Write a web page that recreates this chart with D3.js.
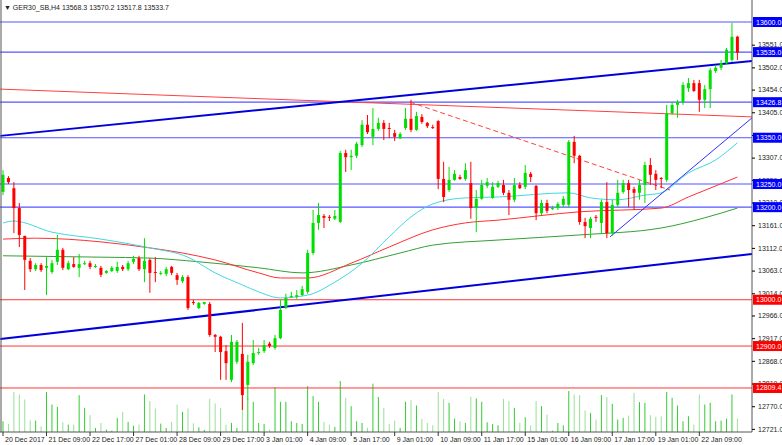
<!DOCTYPE html>
<html>
<head>
  <title>GER30 H4</title>
  <script src="https://d3js.org/d3.v7.min.js"></script>
  <style>
    body { margin: 0; background: #fff; }
    text { font-family: "Liberation Sans", Arial, sans-serif; }
  </style>
</head>
<body>
<script type="text/javascript">

// ****** DATA ******

  var opens = [13233,13263,13241,13198,13138,13084,13066,13075,13069,13060,
    13082,13108,13066,13077,13069,13077,13079,13071,13069,13058,
    13062,13062,13071,13066,13082,13090,13066,13086,13060,13056,
    13056,13071,13053,13040,13049,12995,12982,12991,12991,12924,
    12920,12889,12827,12866,12883,12816,12863,12885,12889,12905,
    12896,12917,12984,13006,13006,13010,13017,13101,13166,13181,
    13179,13175,13168,13317,13308,13311,13334,13378,13352,13369,
    13382,13371,13360,13349,13371,13391,13367,13395,13382,13373,
    13386,13261,13237,13259,13265,13261,13252,13198,13218,13246,
    13220,13244,13248,13231,13216,13248,13244,13272,13246,13187,
    13209,13196,13198,13205,13205,13341,13311,13168,13155,13179,
    13166,13211,13144,13205,13233,13252,13239,13231,13248,13291,
    13272,13263,13259,13403,13421,13427,13457,13468,13468,13432,
    13455,13494,13501,13511,13518,13568.3];
  var highs = [13280,13267,13254,13209,13138,13090,13079,13079,13092,13086,
    13140,13112,13084,13092,13099,13084,13084,13077,13073,13064,
    13073,13082,13075,13084,13095,13095,13133,13090,13092,13062,
    13071,13073,13058,13053,13053,13000,12995,12995,12995,12926,
    12922,12902,12924,12913,12950,12881,12913,12896,12913,12909,
    12924,13000,13013,13017,13021,13030,13108,13194,13209,13185,
    13183,13194,13321,13324,13324,13341,13388,13399,13414,13393,
    13388,13382,13367,13362,13414,13432,13406,13401,13384,13378,
    13388,13298,13287,13280,13270,13295,13298,13237,13259,13263,
    13254,13257,13259,13237,13263,13254,13291,13276,13248,13216,
    13216,13203,13211,13224,13345,13354,13313,13177,13179,13183,
    13216,13254,13216,13259,13259,13259,13244,13259,13298,13306,
    13280,13265,13421,13427,13432,13470,13479,13475,13475,13464,
    13501,13507,13518,13544,13598,13570.2];
  var lows = [13226,13250,13144,13114,13021,13060,13062,13060,13010,13056,
    13075,13064,13064,13069,13049,13075,13066,13069,13049,13056,
    13060,13058,13062,13062,13077,13062,13038,13015,13038,13053,
    13051,13053,13032,13036,12978,12989,12980,12989,12920,12887,
    12827,12827,12822,12861,12762,12784,12859,12881,12885,12896,
    12892,12915,12980,13004,13002,13008,13013,13097,13151,13155,
    13170,13172,13166,13276,13280,13306,13330,13358,13334,13365,
    13345,13349,13343,13347,13367,13362,13365,13380,13371,13369,
    13239,13211,13233,13257,13259,13257,13175,13146,13216,13241,
    13218,13241,13226,13183,13211,13239,13239,13254,13172,13183,
    13187,13194,13194,13200,13200,13295,13162,13133,13133,13168,
    13142,13133,13138,13200,13229,13200,13194,13216,13209,13248,
    13237,13241,13254,13399,13393,13421,13449,13449,13406,13414,
    13414,13490,13496,13509,13514,13517.8];
  var closes = [13270,13254,13198,13140,13086,13066,13075,13064,13073,13079,
    13108,13069,13079,13071,13077,13079,13071,13073,13054,13062,
    13069,13071,13066,13079,13088,13066,13084,13058,13058,13058,
    13066,13058,13043,13049,12982,12993,12993,12995,12924,12920,
    12887,12863,12909,12909,12794,12866,12885,12887,12902,12900,
    12917,12978,13004,13008,13010,13023,13101,13166,13183,13177,
    13177,13181,13317,13308,13311,13337,13378,13362,13369,13382,
    13369,13369,13352,13358,13391,13367,13397,13384,13375,13372,
    13261,13222,13259,13272,13261,13280,13198,13218,13248,13254,
    13244,13252,13231,13216,13248,13241,13274,13265,13187,13209,
    13192,13198,13207,13218,13341,13311,13168,13159,13175,13177,
    13211,13144,13205,13231,13252,13237,13231,13248,13291,13270,
    13259,13261,13403,13421,13427,13464,13468,13451,13432,13455,
    13496,13501,13511,13540,13568,13533.7];
  var volumes = [32,24,119,112,97,35,34,17,119,82,
    75,29,22,22,110,72,50,12,27,7,
    4,42,60,30,19,22,112,92,70,25,
    12,30,82,60,70,26,14,6,99,85,
    72,22,27,12,137,99,90,27,24,7,
    134,90,90,32,27,24,137,107,90,30,
    22,15,152,102,77,32,27,12,144,104,
    72,24,34,12,90,95,79,39,27,20,
    119,99,87,40,32,27,105,100,90,29,
    24,20,99,92,72,27,44,20,92,77,
    52,4,27,20,122,112,110,64,57,37,
    110,104,84,37,42,49,117,89,87,50,
    45,47,119,102,79,32,47,22,112,82,
    87,32,34,40,112,40];

  // moving averages as [bar, price]
  var maFast = [[0,13166],[2,13170],[9,13146],[18,13131],[27,13112],[34,13092],[39,13058],[44,13032],
    [47,13017],[51,13004],[56,13010],[61,13038],[66,13079],[71,13136],[75,13179],[79,13207],[85,13220],
    [91,13222],[104,13231],[108,13220],[113,13216],[118,13226],[121,13231],[126,13274],[131,13302],[135,13339]];
  var maMid = [[0,13131],[6,13133],[18,13125],[27,13112],[33,13101],[39,13086],[47,13058],[51,13047],
    [56,13047],[64,13079],[71,13114],[79,13151],[85,13166],[91,13172],[106,13190],[121,13198],[126,13222],[135,13265]];
  var maSlow = [[0,13095],[18,13092],[27,13090],[36,13082],[47,13069],[55,13058],[64,13075],[73,13101],
    [79,13118],[91,13129],[106,13140],[121,13155],[129,13177],[135,13198]];

  var blueLevels = [13600, 13535, 13426.8, 13350, 13250, 13200];
  var redLevels = [13000, 12900, 12809.4];
  var trendUpper = [[-0.5,13354],[137.7,13516]];
  var trendLower = [[-0.5,12915],[137.7,13099]];
  var redLine = [[-0.5,13455],[137.7,13395]];
  var redDashed = [[74.8,13427],[122.6,13237]];
  var blueThin = [[111.6,13136],[137.7,13393]];

  var priceTicks = [13551,13502,13454,13405,13356,13307,13259,13210,13161,13112,13063,13014,12966,12917,12868,12819,12770,12721];
  var dateLabels = ["20 Dec 2017","21 Dec 09:00","22 Dec 17:00","27 Dec 01:00","28 Dec 09:00","29 Dec 17:00",
    "3 Jan 01:00","4 Jan 09:00","5 Jan 17:00","9 Jan 01:00","10 Jan 09:00","11 Jan 17:00","15 Jan 01:00",
    "16 Jan 09:00","17 Jan 17:00","19 Jan 01:00","22 Jan 09:00"];

// ****** SCALES ******

  var width = 782, height = 445, plotRight = 752, plotBottom = 432;
  var x = d3.scaleLinear().domain([0, 135]).range([3, 3 + 5.44 * 135]);
  var y = d3.scaleLinear().domain([12721, 13600]).range([428.9, 22]);
  var v = d3.scaleLinear().domain([0, 152]).range([plotBottom, plotBottom - 51]);

  var svg = d3.select("body").append("svg")
    .attr("width", width).attr("height", height);

  var plot = svg.append("g");
  plot.append("clipPath").attr("id", "clip")
    .append("rect").attr("x", 0).attr("y", 0).attr("width", plotRight).attr("height", plotBottom);
  var g = plot.append("g").attr("clip-path", "url(#clip)");

// ****** VOLUME ******

  g.selectAll(".vol").data(volumes).enter().append("line")
    .attr("x1", function (d, i) { return x(i); })
    .attr("x2", function (d, i) { return x(i); })
    .attr("y1", v(0)).attr("y2", function (d) { return v(d); })
    .attr("stroke", function (d, i) { return closes[i] >= opens[i] ? "#33cc33" : "#99e099"; })
    .attr("stroke-width", 1);

// ****** LEVELS ******

  g.selectAll(".blvl").data(blueLevels).enter().append("line")
    .attr("x1", 0).attr("x2", plotRight)
    .attr("y1", function (d) { return y(d); }).attr("y2", function (d) { return y(d); })
    .attr("stroke", "#5555ff").attr("stroke-width", 1.2);
  g.selectAll(".rlvl").data(redLevels).enter().append("line")
    .attr("x1", 0).attr("x2", plotRight)
    .attr("y1", function (d) { return y(d); }).attr("y2", function (d) { return y(d); })
    .attr("stroke", "#ff3333").attr("stroke-width", 1);

  var line = d3.line().x(function (d) { return x(d[0]); }).y(function (d) { return y(d[1]); });
  var smooth = d3.line().curve(d3.curveMonotoneX)
    .x(function (d) { return x(d[0]); }).y(function (d) { return y(d[1]); });

  g.append("path").attr("d", smooth(maSlow)).attr("fill", "none").attr("stroke", "#33a033").attr("stroke-width", 1);
  g.append("path").attr("d", smooth(maMid)).attr("fill", "none").attr("stroke", "#ff3030").attr("stroke-width", 1);
  g.append("path").attr("d", smooth(maFast)).attr("fill", "none").attr("stroke", "#40d8e0").attr("stroke-width", 1);

  g.append("path").attr("d", line(redLine)).attr("fill", "none").attr("stroke", "#ff4040").attr("stroke-width", 1);
  g.append("path").attr("d", line(redDashed)).attr("fill", "none").attr("stroke", "#ff4040")
    .attr("stroke-width", 1).attr("stroke-dasharray", "5,3");
  g.append("path").attr("d", line(blueThin)).attr("fill", "none").attr("stroke", "#3030ff").attr("stroke-width", 1);
  g.append("path").attr("d", line(trendUpper)).attr("fill", "none").attr("stroke", "#0000dd").attr("stroke-width", 2);
  g.append("path").attr("d", line(trendLower)).attr("fill", "none").attr("stroke", "#0000dd").attr("stroke-width", 2);

// ****** CANDLES ******

  var candles = g.selectAll(".candle").data(closes).enter().append("g");
  function col(i) { return closes[i] >= opens[i] ? "#00e000" : "#ff0000"; }
  candles.append("line")
    .attr("x1", function (d, i) { return x(i); }).attr("x2", function (d, i) { return x(i); })
    .attr("y1", function (d, i) { return y(highs[i]); }).attr("y2", function (d, i) { return y(lows[i]); })
    .attr("stroke", function (d, i) { return col(i); });
  candles.append("rect")
    .attr("x", function (d, i) { return x(i) - 1.5; })
    .attr("width", 3)
    .attr("y", function (d, i) { return y(Math.max(opens[i], closes[i])); })
    .attr("height", function (d, i) { return Math.max(1, Math.abs(y(opens[i]) - y(closes[i]))); })
    .attr("fill", function (d, i) { return col(i); });

// ****** AXES ******

  svg.append("line").attr("x1", 1).attr("x2", 1).attr("y1", 0).attr("y2", plotBottom).attr("stroke", "#555");
  svg.append("line").attr("x1", plotRight).attr("x2", plotRight).attr("y1", 0).attr("y2", plotBottom).attr("stroke", "#555");
  svg.append("line").attr("x1", 0).attr("x2", plotRight).attr("y1", plotBottom).attr("y2", plotBottom).attr("stroke", "#555");

  var yAxis = d3.axisRight(y).tickValues(priceTicks).tickSize(3).tickPadding(3)
    .tickFormat(function (d) { return d3.format(".1f")(d); });
  svg.append("g").attr("transform", "translate(" + plotRight + ",0)").call(yAxis)
    .call(function (a) { a.select(".domain").remove(); })
    .selectAll("text").attr("font-size", 7).attr("fill", "#222").attr("font-family", "Liberation Sans, Arial");

  var labelData = blueLevels.map(function (d) { return { v: d, c: "#0000ff" }; })
    .concat(redLevels.map(function (d) { return { v: d, c: "#ff0000" }; }));
  var lbl = svg.selectAll(".lbl").data(labelData).enter().append("g")
    .attr("transform", function (d) { return "translate(" + (plotRight + 1) + "," + y(d.v) + ")"; });
  lbl.append("rect").attr("x", 0).attr("y", -5).attr("width", 29).attr("height", 10).attr("fill", function (d) { return d.c; });
  lbl.append("text").attr("x", 3).attr("y", 2.5).attr("font-size", 7).attr("fill", "#fff")
    .text(function (d) { return d3.format(".1f")(d.v); });

  var xt = svg.selectAll(".xt").data(dateLabels).enter().append("g")
    .attr("transform", function (d, i) { return "translate(" + x(i * 8) + "," + plotBottom + ")"; });
  xt.append("line").attr("y1", 0).attr("y2", 4).attr("stroke", "#333");
  xt.append("text").attr("x", 2).attr("y", 10).attr("font-size", 7).attr("fill", "#222")
    .text(function (d) { return d; });

  svg.append("text").attr("x", 4).attr("y", 10).attr("font-size", 7).attr("fill", "#222")
    .text("\u25BC GER30_SB,H4  13568.3 13570.2 13517.8 13533.7");
</script>
</body>
</html>
